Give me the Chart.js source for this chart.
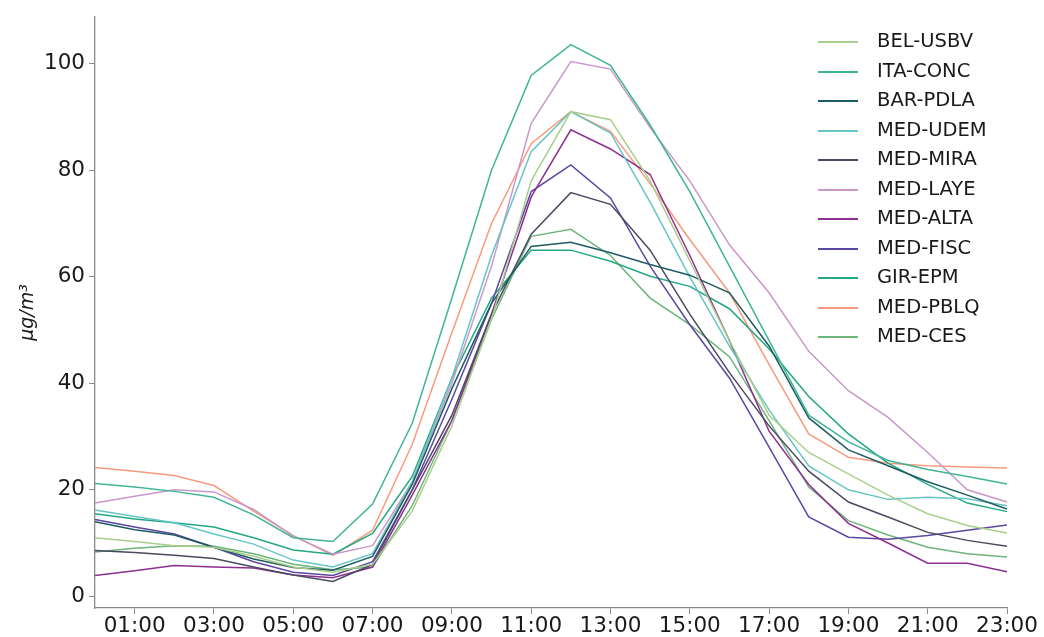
<!DOCTYPE html>
<html>
<head>
<meta charset="utf-8">
<script src="https://cdn.jsdelivr.net/npm/chart.js@4.4.1/dist/chart.umd.min.js"></script>
<style>
  html, body { margin: 0; padding: 0; background: #fff; }
  #wrap { position: relative; width: 1044px; height: 637px; }
  #legend { position: absolute; left: 818px; top: 28px; font-family: "DejaVu Sans", sans-serif; font-size: 19.5px; color: #1a1a1a; }
  .row { position: relative; height: 29.5px; white-space: nowrap; }
  .row i { position: absolute; left: 0; top: 13px; width: 40px; height: 2px; }
  .row span { position: absolute; left: 59px; top: 1px; line-height: 24px; }
</style>
</head>
<body>
<div id="wrap">
  <canvas id="myChart" width="1044" height="637"></canvas>
  <div id="legend"></div>
</div>
<script>
const hours = ['00:00', '01:00', '02:00', '03:00', '04:00', '05:00', '06:00', '07:00', '08:00', '09:00', '10:00', '11:00',
    '12:00', '13:00', '14:00', '15:00', '16:00', '17:00', '18:00', '19:00', '20:00', '21:00', '22:00', '23:00'];
const yTicks = [0, 20, 40, 60, 80, 100];

const stations = ['BEL-USBV', 'ITA-CONC', 'BAR-PDLA', 'MED-UDEM', 'MED-MIRA', 'MED-LAYE', 'MED-ALTA', 'MED-FISC', 'GIR-EPM', 'MED-PBLQ', 'MED-CES'];
const colors = ['#a9cf8c', '#3fb596', '#1f5c62', '#66c6c5', '#4a4a62', '#c997ca', '#8e2f8f', '#5c47a2', '#22a883', '#f79a7e', '#6db57b'];

const belUsbv = [11.0, 10.3, 9.5, 9.2, 7.5, 5.5, 4.5, 6.0, 16.0, 32.0, 52.0, 78.0, 91.0, 89.5, 78.0, 63.0, 48.0, 34.0, 27.0, 23.0, 19.0, 15.5, 13.3, 11.9];
const itaConc = [21.2, 20.5, 19.7, 18.6, 15.3, 11.0, 10.3, 17.3, 32.5, 56.0, 80.0, 97.8, 103.6, 99.7, 88.5, 76.0, 62.0, 48.0, 34.0, 29.0, 25.5, 23.8, 22.5, 21.1];
const barPdla = [14.0, 12.5, 11.5, 9.2, 7.0, 5.4, 4.9, 7.5, 21.0, 39.0, 55.0, 65.7, 66.5, 64.5, 62.3, 60.3, 57.0, 47.0, 33.5, 27.5, 24.5, 21.5, 19.0, 16.4];
const medUdem = [16.2, 15.0, 13.8, 11.7, 9.8, 6.8, 5.5, 8.0, 21.5, 41.0, 64.0, 83.5, 91.0, 87.0, 74.0, 60.0, 47.0, 35.0, 24.5, 20.0, 18.2, 18.6, 18.3, 17.0];
const medMira = [8.6, 8.2, 7.7, 7.1, 5.5, 4.0, 2.8, 6.0, 20.0, 34.0, 53.0, 68.0, 75.8, 73.6, 65.0, 53.0, 42.0, 32.0, 23.5, 17.7, 14.9, 12.0, 10.5, 9.4];
const medLaye = [17.5, 18.8, 20.0, 19.6, 16.3, 11.3, 7.9, 9.5, 21.5, 40.0, 62.0, 88.8, 100.4, 99.0, 88.0, 78.0, 66.0, 57.0, 46.0, 38.6, 33.6, 27.0, 20.0, 17.7];
const medAlta = [3.9, 4.8, 5.8, 5.5, 5.3, 4.0, 3.5, 5.5, 19.0, 33.0, 53.0, 75.0, 87.6, 84.0, 79.2, 64.0, 48.0, 31.0, 21.0, 13.7, 10.0, 6.2, 6.2, 4.6];
const medFisc = [14.4, 13.0, 11.7, 9.2, 6.5, 4.5, 3.9, 6.5, 20.0, 37.0, 55.0, 76.0, 81.0, 74.8, 62.0, 51.0, 41.0, 28.0, 14.9, 11.1, 10.7, 11.4, 12.4, 13.4];
const girEpm = [15.5, 14.5, 13.8, 13.0, 11.0, 8.7, 7.9, 11.8, 22.5, 41.0, 56.0, 65.0, 65.0, 62.9, 60.1, 58.2, 54.0, 46.5, 37.5, 30.5, 25.0, 21.0, 17.5, 15.9];
const medPblq = [24.2, 23.5, 22.7, 20.8, 16.0, 11.4, 7.7, 12.4, 28.5, 49.5, 70.0, 85.0, 91.0, 87.3, 77.5, 67.0, 57.0, 43.5, 30.5, 26.1, 25.0, 24.5, 24.3, 24.1];
const medCes = [8.3, 9.0, 9.5, 9.4, 8.0, 6.0, 5.0, 5.5, 17.0, 33.0, 52.0, 67.6, 68.9, 64.0, 56.0, 51.0, 45.0, 33.0, 20.5, 14.2, 11.5, 9.2, 8.0, 7.4];

const series = [belUsbv, itaConc, barPdla, medUdem, medMira, medLaye, medAlta, medFisc, girEpm, medPblq, medCes];

let ctx = document.getElementById('myChart');
let legendBox = document.getElementById('legend');

let datasets = series.map((vals, i) => ({
    label: stations[i],
    data: vals,
    borderColor: colors[i],
    borderWidth: 1.5,
    pointRadius: 0,
    tension: 0,
    fill: false
}));

// legend as html, top right like the original
stations.forEach((name, i) => {
    let row = document.createElement('div');
    row.className = 'row';
    row.innerHTML = `<i style="background:${colors[i]}"></i><span>${name}</span>`;
    legendBox.appendChild(row);
});

new Chart(ctx, {
    type: 'line',
    data: { labels: hours, datasets: datasets },
    options: {
        responsive: false,
        animation: false,
        devicePixelRatio: 1,
        layout: { padding: { top: 15, right: 37, left: 0, bottom: 0 } },
        plugins: { legend: { display: false }, tooltip: { enabled: false } },
        scales: {
            x: {
                offset: false,
                border: { color: '#8a8a8a', width: 1.3 },
                grid: { display: true, drawOnChartArea: false, drawTicks: true, tickLength: 6, color: '#8a8a8a' },
                ticks: { color: '#1a1a1a', font: { family: 'DejaVu Sans', size: 21.5 }, padding: 0, maxRotation: 0, autoSkip: false },
                afterBuildTicks: (s) => { s.ticks = s.ticks.filter((t, i) => i % 2 === 1); },
                afterFit: (s) => { s.height = 29; }
            },
            y: {
                min: -2.2,
                max: 108.8,
                border: { color: '#8a8a8a', width: 1.3 },
                grid: { display: true, drawOnChartArea: false, drawTicks: true, tickLength: 6, color: '#8a8a8a' },
                ticks: { color: '#1a1a1a', font: { family: 'DejaVu Sans', size: 21.5 }, padding: 4 },
                afterBuildTicks: (s) => { s.ticks = yTicks.map(v => ({ value: v })); },
                afterFit: (s) => { s.width = 95; },
                title: {
                    display: true,
                    text: 'μg/m³',
                    color: '#1a1a1a',
                    font: { family: 'DejaVu Sans', size: 19, style: 'italic' },
                    padding: { top: 17, bottom: 0 }
                }
            }
        }
    }
});
</script>
</body>
</html>
